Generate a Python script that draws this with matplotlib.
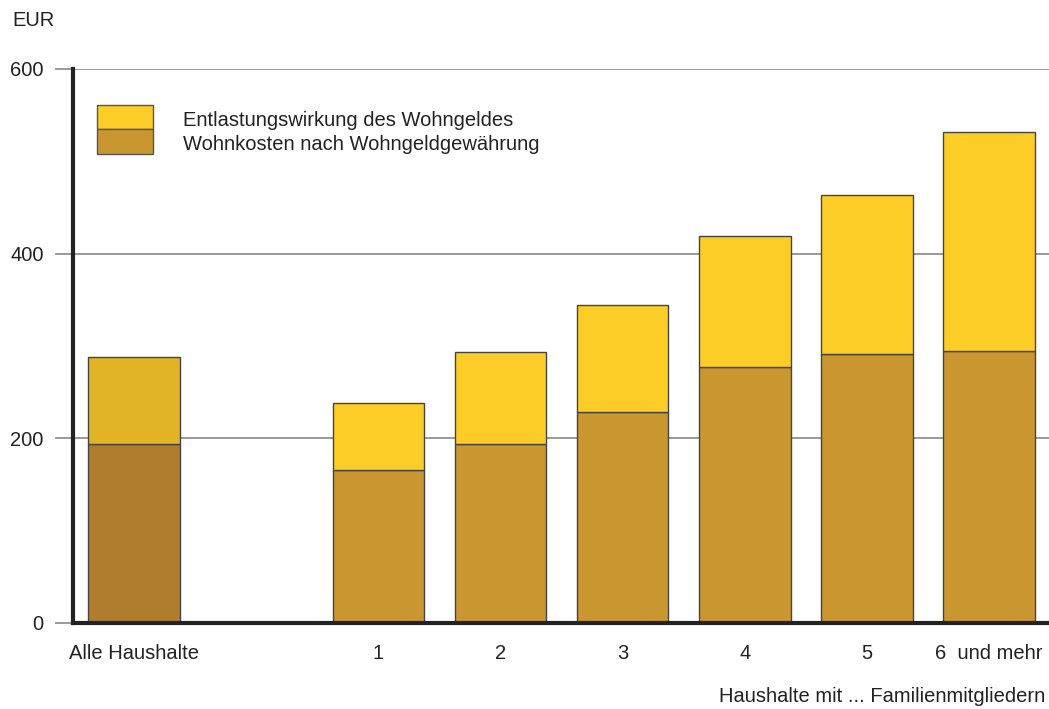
import matplotlib
matplotlib.use("Agg")
import matplotlib.pyplot as plt
from matplotlib.patches import Rectangle

categories = ["Alle Haushalte", "1", "2", "3", "4", "5", "6  und mehr"]
positions = [0, 2, 3, 4, 5, 6, 7]
wohnkosten = [194, 166, 194, 228, 277, 291, 295]
total = [288, 238, 293, 344, 419, 464, 532]
entlastung = [t - w for t, w in zip(total, wohnkosten)]

c_top = "#FDCD27"
c_bot = "#C9962F"
c_top_all = "#E2B325"
c_bot_all = "#B07D2E"
tc = "#222222"
fs = 14.5

plt.rcParams['font.family'] = ['Liberation Sans', 'DejaVu Sans']

fig = plt.figure(figsize=(10.49, 7.09), dpi=100)
W, H = 1049, 709
ax = fig.add_axes([73 / W, (H - 623) / H, (W - 73) / W, (623 - 69) / H])

bot_colors = [c_bot_all] + [c_bot] * 6
top_colors = [c_top_all] + [c_top] * 6
ax.bar(positions, wohnkosten, width=0.75, color=bot_colors, edgecolor="#444444", linewidth=1.0, zorder=3)
ax.bar(positions, entlastung, bottom=wohnkosten, width=0.75, color=top_colors, edgecolor="#444444", linewidth=1.0, zorder=3)

ax.set_xlim(-0.5, 7.49)
ax.set_ylim(0, 600)
ax.set_yticks([0, 200, 400, 600])
ax.set_yticklabels(["0", "200", "400", "600"])
ax.yaxis.grid(True, color="#888888", linewidth=1.2, zorder=0)
ax.tick_params(axis="y", length=13, width=1.2, color="#888888", labelsize=fs, labelcolor=tc, pad=8)
ax.set_xticks(positions)
ax.set_xticklabels(categories)
ax.tick_params(axis="x", length=0, labelsize=fs, labelcolor=tc, pad=15)

for s in ["top", "right"]:
    ax.spines[s].set_visible(False)
for s in ["left", "bottom"]:
    ax.spines[s].set_linewidth(3)
    ax.spines[s].set_color("#222222")
    ax.spines[s].set_zorder(4)

# legend
fig.patches.append(Rectangle((97 / W, (H - 129) / H), 56 / W, 24 / H, transform=fig.transFigure,
                             facecolor=c_top, edgecolor="#555555", linewidth=1.0))
fig.patches.append(Rectangle((97 / W, (H - 154) / H), 56 / W, 25 / H, transform=fig.transFigure,
                             facecolor=c_bot, edgecolor="#555555", linewidth=1.0))
fig.text(183 / W, (H - 120) / H, "Entlastungswirkung des Wohngeldes", fontsize=fs, color=tc, va="center")
fig.text(183 / W, (H - 145) / H, "Wohnkosten nach Wohngeldgewährung", fontsize=fs, color=tc, va="center")

fig.text(12 / W, (H - 20) / H, "EUR", fontsize=fs, color=tc, va="center")
fig.text(1045 / W, (H - 697) / H, "Haushalte mit ... Familienmitgliedern", fontsize=fs, color=tc, va="center", ha="right")

fig.savefig("out.png", dpi=100)
